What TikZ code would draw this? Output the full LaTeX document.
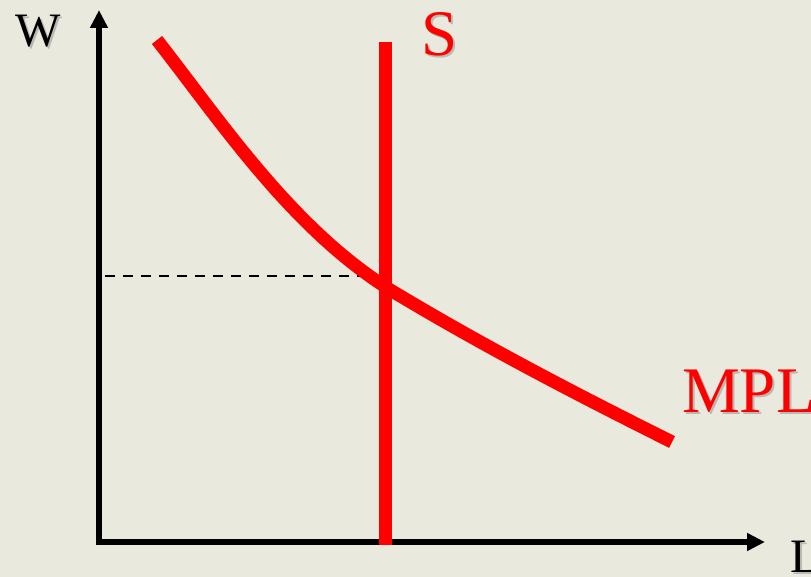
\documentclass[tikz,border=0pt]{standalone}
\usepackage{fontspec}
\setmainfont{Liberation Serif}
\usetikzlibrary{arrows.meta}
\definecolor{bg}{RGB}{234,233,221}
\definecolor{shadow}{RGB}{185,185,180}
\begin{document}
\begin{tikzpicture}[x=1pt,y=-1pt,
  axis/.style={line width=5.5pt,black,{Triangle[length=18pt,width=17pt]}-{Triangle[length=18pt,width=17pt]}},
  redline/.style={line width=13pt,red,line cap=butt},
  guide/.style={line width=2pt,black,dash pattern=on 10pt off 8pt},
  lbl/.style={inner sep=0pt,anchor=base west},
]
\fill[bg] (0,0) rectangle (811,577);
\useasboundingbox (0,0) rectangle (811,577);
% coordinates
\coordinate (ytop) at (99,10);
\coordinate (origin) at (99,542);
\coordinate (xend) at (765,542);
\coordinate (stop) at (385.5,42);
\coordinate (sbot) at (385.5,545);
\coordinate (dstart) at (105,276);
\coordinate (dend) at (380,276);
\coordinate (mstart) at (157,40);
\coordinate (eq) at (392,291);
\coordinate (mend) at (672,442);
% axes
\draw[axis] (ytop) -- (origin) -- (xend);
% dashed guide
\draw[guide] (dstart) -- (dend);
% S line
\draw[redline] (stop) -- (sbot);
% MPL curve
\draw[redline] (mstart) .. controls (222,123) and (292,229) .. (eq)
  .. controls (487,348) and (577,394.5) .. (mend);
% labels with shadow
\node[lbl,text=shadow,font=\fontsize{48}{48}\selectfont] at (17,49) {W};
\node[lbl,font=\fontsize{48}{48}\selectfont] (W) at (15,47) {W};
\node[lbl,text=shadow,font=\fontsize{65}{65}\selectfont] at (423,58) {S};
\node[lbl,text=red,font=\fontsize{65}{65}\selectfont] (S) at (421,56) {S};
\node[lbl,text=shadow,font=\fontsize{65}{65}\selectfont] at (684,414) {MPL};
\node[lbl,text=red,font=\fontsize{65}{65}\selectfont] (MPL) at (682,412) {MPL};
\node[lbl,text=shadow,font=\fontsize{48}{48}\selectfont] at (792,574) {L};
\node[lbl,font=\fontsize{48}{48}\selectfont] (L) at (790,572) {L};
\end{tikzpicture}
\end{document}
